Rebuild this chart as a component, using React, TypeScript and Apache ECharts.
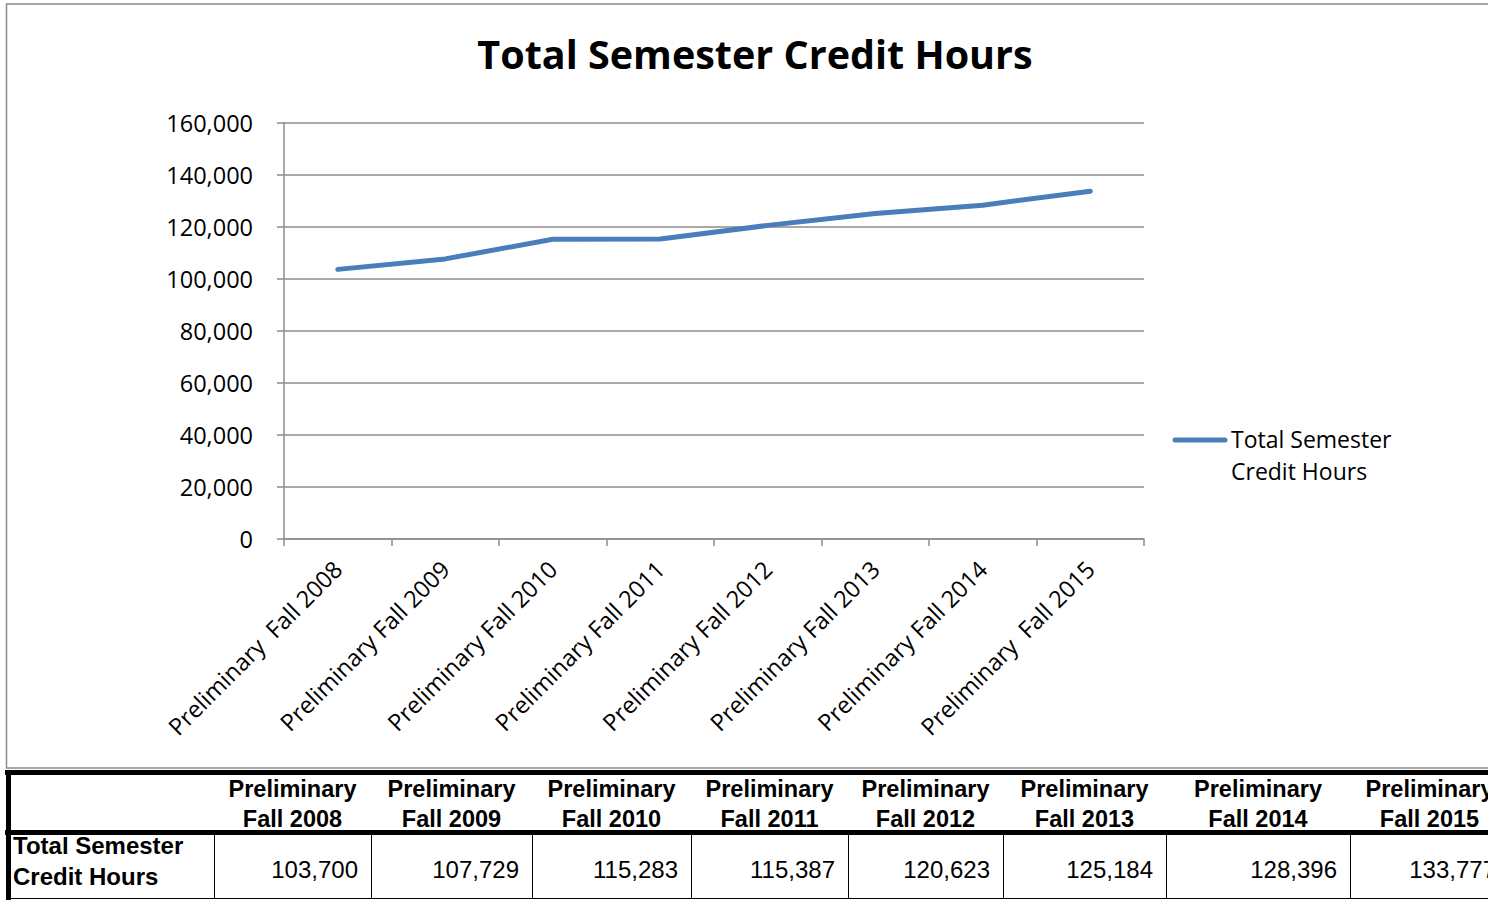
import React, { useEffect, useRef } from "react";
import * as echarts from "echarts";

const categories = [
  "Preliminary  Fall 2008",
  "Preliminary Fall 2009",
  "Preliminary Fall 2010",
  "Preliminary Fall 2011",
  "Preliminary Fall 2012",
  "Preliminary Fall 2013",
  "Preliminary Fall 2014",
  "Preliminary  Fall 2015",
];
const creditHours = [103700, 107729, 115283, 115387, 120623, 125184, 128396, 133777];
const headerTop = ["Preliminary", "Preliminary", "Preliminary", "Preliminary", "Preliminary", "Preliminary", "Preliminary", "Preliminary"];
const headerBottom = ["Fall 2008", "Fall 2009", "Fall 2010", "Fall 2011", "Fall 2012", "Fall 2013", "Fall 2014", "Fall 2015"];
const seriesName = "Total Semester Credit Hours";
const rowLabel = ["Total Semester", "Credit Hours"];
const yMin = 0;
const yMax = 160000;
const yInterval = 20000;

const colBounds = [214, 371, 532, 691, 848, 1003, 1166, 1350, 1509];

const LINE_COLOR = "#4A7EBB";
const GRID_COLOR = "#8c8c8c";
const FONT = "'Open Sans', 'Noto Sans', sans-serif";
const TFONT = "'Liberation Sans', Arial, sans-serif";

function fmt(v: number) {
  return v.toLocaleString("en-US");
}

export default function App() {
  const ref = useRef<HTMLDivElement>(null);
  useEffect(() => {
    if (!ref.current) return;
    const chart = echarts.init(ref.current, null, { renderer: "svg" });

    const graphics: any[] = [];
    // chart border
    graphics.push({
      type: "rect",
      shape: { x: 6.5, y: 4, width: 1500, height: 764 },
      style: { fill: "none", stroke: "#8a8a8a", lineWidth: 1.5 },
      silent: true,
    });
    // legend
    graphics.push({
      type: "line",
      shape: { x1: 1175, y1: 440, x2: 1225, y2: 440 },
      style: { stroke: LINE_COLOR, lineWidth: 5, lineCap: "round" },
    });
    graphics.push({
      type: "text",
      x: 1231,
      y: 423,
      style: {
        text: "Total Semester\nCredit Hours",
        fontSize: 23,
        fontFamily: FONT,
        fill: "#000",
        lineHeight: 32,
        verticalAlign: "top",
        align: "left",
      },
    });
    // table texts
    for (let i = 0; i < headerTop.length; i++) {
      const cx = (colBounds[i] + colBounds[i + 1]) / 2;
      graphics.push({
        type: "text",
        x: cx,
        y: 789,
        style: { text: headerTop[i], fontSize: 23.5, fontWeight: "bold", fontFamily: TFONT, fill: "#000", align: "center", verticalAlign: "middle" },
      });
      graphics.push({
        type: "text",
        x: cx,
        y: 819,
        style: { text: headerBottom[i], fontSize: 23.5, fontWeight: "bold", fontFamily: TFONT, fill: "#000", align: "center", verticalAlign: "middle" },
      });
      graphics.push({
        type: "text",
        x: colBounds[i + 1] - 13,
        y: 869,
        style: { text: fmt(creditHours[i]), fontSize: 24, fontFamily: TFONT, fill: "#000", align: "right", verticalAlign: "middle" },
      });
    }
    graphics.push({
      type: "text",
      x: 13,
      y: 845,
      style: { text: rowLabel[0], fontSize: 24, fontWeight: "bold", fontFamily: TFONT, fill: "#000", align: "left", verticalAlign: "middle" },
    });
    graphics.push({
      type: "text",
      x: 13,
      y: 876,
      style: { text: rowLabel[1], fontSize: 24, fontWeight: "bold", fontFamily: TFONT, fill: "#000", align: "left", verticalAlign: "middle" },
    });
    // white strip clipping the top of the row label
    graphics.push({
      type: "rect",
      shape: { x: 11, y: 834, width: 200, height: 3 },
      style: { fill: "#fff" },
    });
    // table lines
    for (let i = 0; i < colBounds.length - 1; i++) {
      graphics.push({
        type: "line",
        shape: { x1: colBounds[i] + 0.5, y1: 834, x2: colBounds[i] + 0.5, y2: 899 },
        style: { stroke: "#000", lineWidth: 1 },
      });
    }
    graphics.push({
      type: "line",
      shape: { x1: 6, y1: 898.5, x2: 1500, y2: 898.5 },
      style: { stroke: "#000", lineWidth: 1 },
    });
    graphics.push({ type: "rect", shape: { x: 5, y: 770, width: 1500, height: 5 }, style: { fill: "#000" } });
    graphics.push({ type: "rect", shape: { x: 5, y: 830, width: 1500, height: 5 }, style: { fill: "#000" } });
    graphics.push({ type: "rect", shape: { x: 6, y: 770, width: 5, height: 130 }, style: { fill: "#000" } });

    chart.setOption({
      animation: false,
      backgroundColor: "#fff",
      title: {
        text: seriesName,
        left: 755,
        top: 33,
        textAlign: "center",
        padding: 0,
        textStyle: { fontFamily: FONT, fontSize: 39.5, fontWeight: "bold", color: "#000", lineHeight: 42 },
      },
      grid: { left: 284, right: 344, top: 123, bottom: 361, containLabel: false },
      xAxis: {
        type: "category",
        data: categories,
        boundaryGap: true,
        axisLine: { show: true, lineStyle: { color: GRID_COLOR, width: 1.5 } },
        axisTick: { show: true, length: 7, alignWithLabel: false, interval: 0, lineStyle: { color: GRID_COLOR, width: 1.5 } },
        axisLabel: {
          interval: 0,
          rotate: 45,
          margin: 26,
          fontSize: 23.5,
          fontFamily: FONT,
          color: "#000",
        },
        splitLine: { show: false },
      },
      yAxis: {
        type: "value",
        min: yMin,
        max: yMax,
        interval: yInterval,
        axisLine: { show: true, lineStyle: { color: GRID_COLOR, width: 1.5 } },
        axisTick: { show: true, length: 7, lineStyle: { color: GRID_COLOR, width: 1.5 } },
        axisLabel: {
          margin: 31,
          fontSize: 23.5,
          fontFamily: FONT,
          color: "#000",
          formatter: (v: number) => fmt(v),
        },
        splitLine: { show: true, lineStyle: { color: GRID_COLOR, width: 1.5 } },
      },
      series: [
        {
          name: seriesName,
          type: "line",
          data: creditHours,
          symbol: "none",
          lineStyle: { color: LINE_COLOR, width: 5, cap: "round", join: "round" },
          itemStyle: { color: LINE_COLOR },
        },
      ],
      graphic: graphics,
    });
    return () => chart.dispose();
  }, []);
  return (
    <div
      ref={ref}
      style={{ position: "fixed", left: 0, top: 0, width: 1488, height: 900, background: "#fff" }}
    />
  );
}
